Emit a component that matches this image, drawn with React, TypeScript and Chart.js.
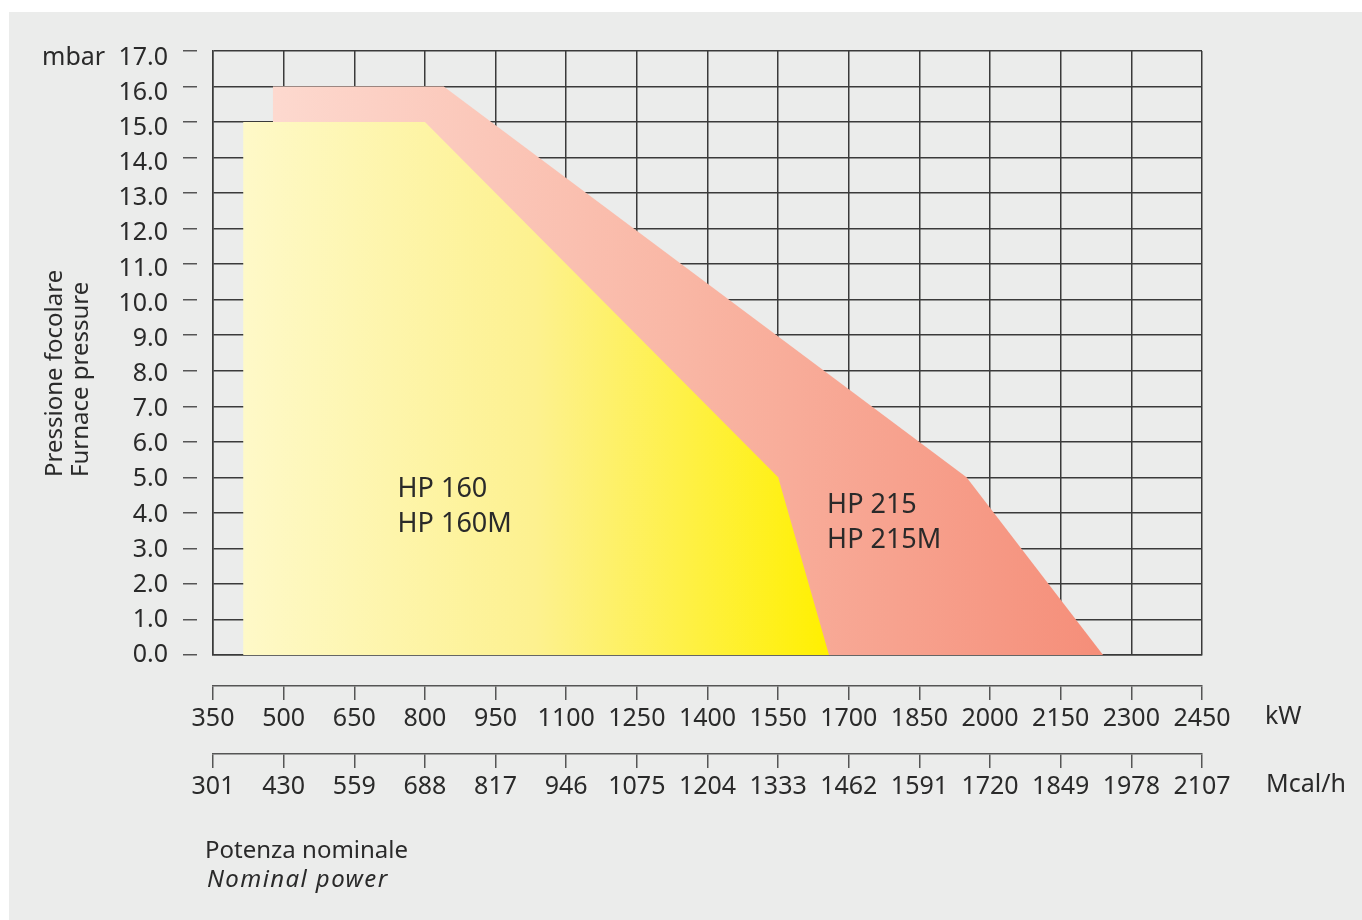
import React, { useEffect, useRef } from "react";
import { Chart, registerables } from "chart.js";

Chart.register(...registerables);

// ---- Data ----
const kwTicks = [350, 500, 650, 800, 950, 1100, 1250, 1400, 1550, 1700, 1850, 2000, 2150, 2300, 2450];
const mcalTickLabels = ["301", "430", "559", "688", "817", "946", "1075", "1204", "1333", "1462", "1591", "1720", "1849", "1978", "2107"];
const pressureTicks = [0, 1, 2, 3, 4, 5, 6, 7, 8, 9, 10, 11, 12, 13, 14, 15, 16, 17];
const pressureMin = 0;
const pressureMax = 17;
// the printed tick labels sit on a slightly compressed scale in the original
const pressureLabelMax = 17.185;

const hp160Power = [414, 414, 800, 1550, 1658];
const hp160Pressure = [0, 15, 15, 5, 0];

const hp215Power = [477, 477, 840, 1950, 2240];
const hp215Pressure = [0, 16, 16, 5, 0];

const hp160Labels = ["HP 160", "HP 160M"];
const hp215Labels = ["HP 215", "HP 215M"];

const FONT = '"Noto Sans", "Open Sans", sans-serif';
const TEXT = "#2a2a2a";
const GRID = "#3a3a3a";

function toPoints(xs: number[], ys: number[]) {
  return xs.map((x, i) => ({ x, y: ys[i] }));
}

function gradientFor(stops: [number, string][], xs: number[]) {
  return (context: any) => {
    const chart = context.chart;
    if (!chart.chartArea) return "rgba(0,0,0,0)";
    const sx = chart.scales.x;
    const x0 = sx.getPixelForValue(Math.min(...xs));
    const x1 = sx.getPixelForValue(Math.max(...xs));
    const g = chart.ctx.createLinearGradient(x0, 0, x1, 0);
    stops.forEach(([o, c]) => g.addColorStop(o, c));
    return g;
  };
}

const textPlugin = {
  id: "extraTexts",
  afterDraw(chart: any) {
    const { ctx, chartArea, scales } = chart;
    ctx.save();
    ctx.fillStyle = TEXT;

    // unit labels
    ctx.font = `25px ${FONT}`;
    ctx.textBaseline = "middle";
    ctx.textAlign = "left";
    ctx.fillText("mbar", chartArea.left - 171, scales.ylab.getPixelForValue(pressureMax));
    ctx.fillText("kW", chartArea.right + 63, scales.xkw.top + 31);
    ctx.fillText("Mcal/h", chartArea.right + 64, scales.xmcal.top + 31);

    // area labels
    ctx.font = `27px ${FONT}`;
    ctx.textBaseline = "alphabetic";
    const sx = scales.x;
    const sy = scales.y;
    const l1x = sx.getPixelForValue(742);
    const l1y = sy.getPixelForValue(4.46);
    ctx.fillText(hp160Labels[0], l1x, l1y);
    ctx.fillText(hp160Labels[1], l1x, l1y + 35);
    const l2x = sx.getPixelForValue(1654);
    const l2y = sy.getPixelForValue(4.0);
    ctx.fillText(hp215Labels[0], l2x, l2y);
    ctx.fillText(hp215Labels[1], l2x, l2y + 35);

    // bottom title
    ctx.font = `24px ${FONT}`;
    ctx.fillText("Potenza nominale", chartArea.left - 8, chartArea.bottom + 203);
    ctx.font = `italic 24px ${FONT}`;
    (ctx as any).letterSpacing = "1.4px";
    ctx.fillText("Nominal power", chartArea.left - 6, chartArea.bottom + 232);
    (ctx as any).letterSpacing = "0px";

    // rotated y title
    ctx.font = `24px ${FONT}`;
    const by = chartArea.bottom - 178;
    ctx.save();
    ctx.translate(chartArea.left - 151, by);
    ctx.rotate(-Math.PI / 2);
    ctx.textAlign = "left";
    ctx.fillText("Pressione focolare", 0, 0);
    ctx.restore();
    ctx.save();
    ctx.translate(chartArea.left - 125, by);
    ctx.rotate(-Math.PI / 2);
    ctx.textAlign = "left";
    ctx.fillText("Furnace pressure", 0, 0);
    ctx.restore();

    ctx.restore();
  },
};

export default function App() {
  const ref = useRef<HTMLCanvasElement>(null);

  useEffect(() => {
    if (!ref.current) return;
    Chart.defaults.font.family = FONT;
    const chart = new Chart(ref.current, {
      type: "line",
      data: {
        datasets: [
          {
            label: "HP 160",
            data: toPoints(hp160Power, hp160Pressure),
            fill: "origin",
            borderWidth: 0,
            borderColor: "rgba(0,0,0,0)",
            pointRadius: 0,
            tension: 0,
            backgroundColor: gradientFor(
              [
                [0, "#fef9c8"],
                [0.5, "#fdf18f"],
                [1, "#fff000"],
              ],
              hp160Power
            ),
          },
          {
            label: "HP 215",
            data: toPoints(hp215Power, hp215Pressure),
            fill: "origin",
            borderWidth: 0,
            borderColor: "rgba(0,0,0,0)",
            pointRadius: 0,
            tension: 0,
            backgroundColor: gradientFor(
              [
                [0, "#fdd9cf"],
                [0.5, "#f9b6a4"],
                [1, "#f58e79"],
              ],
              hp215Power
            ),
          },
        ],
      },
      options: {
        responsive: false,
        animation: false,
        layout: { padding: { left: 108, right: 160, top: 39, bottom: 106 } },
        plugins: {
          legend: { display: false },
          tooltip: { enabled: false },
          title: { display: false },
        },
        scales: {
          x: {
            type: "linear",
            position: "bottom",
            weight: 0,
            min: kwTicks[0],
            max: kwTicks[kwTicks.length - 1],
            ticks: { display: false, stepSize: 150 },
            grid: { color: GRID, lineWidth: 1.5, tickLength: 31, tickColor: "rgba(0,0,0,0)" },
            border: { display: true, color: GRID, width: 1.5 },
            afterFit: (s: any) => {
              s.height = 31;
            },
          },
          xkw: {
            type: "linear",
            position: "bottom",
            weight: 1,
            min: kwTicks[0],
            max: kwTicks[kwTicks.length - 1],
            afterBuildTicks: (s: any) => {
              s.ticks = kwTicks.map((v) => ({ value: v }));
            },
            ticks: {
              autoSkip: false,
              maxRotation: 0,
              padding: 4,
              color: TEXT,
              font: { size: 25, family: FONT },
              callback: (v: any) => String(v),
            },
            grid: { drawOnChartArea: false, color: "#555", lineWidth: 1.5, tickLength: 14 },
            border: { display: true, color: "#555", width: 1.5 },
            afterFit: (s: any) => {
              s.height = 68;
            },
          },
          xmcal: {
            type: "linear",
            position: "bottom",
            weight: 2,
            min: kwTicks[0],
            max: kwTicks[kwTicks.length - 1],
            afterBuildTicks: (s: any) => {
              s.ticks = kwTicks.map((v) => ({ value: v }));
            },
            ticks: {
              autoSkip: false,
              maxRotation: 0,
              padding: 4,
              color: TEXT,
              font: { size: 25, family: FONT },
              callback: (_v: any, i: number) => mcalTickLabels[i],
            },
            grid: { drawOnChartArea: false, color: "#555", lineWidth: 1.5, tickLength: 14 },
            border: { display: true, color: "#555", width: 1.5 },
            afterFit: (s: any) => {
              s.height = 60;
            },
          },
          y: {
            type: "linear",
            position: "left",
            weight: 0,
            min: pressureMin,
            max: pressureMax,
            ticks: { display: false, stepSize: 1 },
            grid: { color: GRID, lineWidth: 1.5, tickLength: 16, tickColor: "rgba(0,0,0,0)" },
            border: { display: true, color: GRID, width: 1.5 },
            afterFit: (s: any) => {
              s.width = 16;
            },
          },
          ydash: {
            type: "linear",
            position: "left",
            weight: 1,
            min: pressureMin,
            max: pressureMax,
            afterBuildTicks: (s: any) => {
              s.ticks = pressureTicks.map((v) => ({ value: v }));
            },
            ticks: { display: false },
            grid: { drawOnChartArea: false, color: "#555", lineWidth: 1.5, tickLength: 14 },
            border: { display: false },
            afterFit: (s: any) => {
              s.width = 14;
            },
          },
          ylab: {
            type: "linear",
            position: "left",
            weight: 2,
            min: pressureMin,
            max: pressureLabelMax,
            afterBuildTicks: (s: any) => {
              s.ticks = pressureTicks.map((v) => ({ value: v }));
            },
            ticks: {
              padding: 15,
              color: TEXT,
              font: { size: 25, family: FONT },
              callback: (v: any) => Number(v).toFixed(1),
            },
            grid: { display: false, drawTicks: false },
            border: { display: false },
            afterFit: (s: any) => {
              s.width = 66;
            },
          },
        },
      } as any,
      plugins: [textPlugin],
    });
    return () => chart.destroy();
  }, []);

  return (
    <div
      style={{
        position: "fixed",
        left: 9,
        top: 12,
        right: 0,
        bottom: 0,
        background: "#ebeceb",
        overflow: "hidden",
      }}
    >
      <canvas ref={ref} width={1353} height={908} style={{ display: "block" }} />
    </div>
  );
}
